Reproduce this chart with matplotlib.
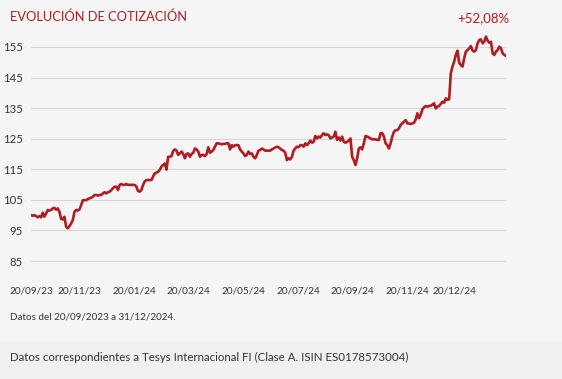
import matplotlib
matplotlib.use('Agg')
import matplotlib.pyplot as plt
import numpy as np
from matplotlib.patches import Rectangle

# valores de cotización (base 100)
cotizacion = [
    100.0, 99.8, 100.0, 99.7, 99.3, 99.7, 99.3, 100.8, 99.5, 100.5,
    101.7, 101.5, 101.7, 102.2, 102.4, 101.8, 102.2, 101.1, 98.8, 98.6,
    99.5, 96.2, 95.7, 96.4, 97.3, 98.4, 101.1, 101.7, 101.5, 101.9,
    103.3, 104.9, 104.9, 104.9, 105.3, 105.5, 105.7, 106.0, 106.6, 106.6,
    106.4, 106.6, 106.6, 107.1, 107.5, 107.1, 107.5, 107.7, 108.2, 108.8,
    109.3, 109.3, 108.2, 109.9, 110.2, 109.9, 109.9, 110.2, 109.9, 109.9,
    109.9, 109.9, 109.9, 109.3, 107.9, 107.7, 108.2, 109.9, 111.0, 111.5,
    111.5, 111.5, 111.5, 112.6, 113.7, 113.9, 114.2, 114.8, 115.9, 116.4,
    116.9, 114.9, 119.1, 119.1, 119.3, 121.0, 121.5, 121.1, 119.7, 120.2,
    120.8, 120.0, 118.6, 120.0, 120.2, 119.1, 120.0, 120.4, 121.8, 121.5,
    120.8, 119.1, 119.7, 119.7, 119.3, 120.0, 122.2, 120.4, 120.8, 121.3,
    122.4, 123.5, 123.5, 123.3, 123.2, 123.3, 123.3, 123.5, 123.5, 121.5,
    122.9, 122.4, 122.9, 122.9, 122.9, 121.5, 120.8, 120.2, 119.3, 119.7,
    120.8, 120.0, 120.2, 119.1, 118.6, 119.7, 121.1, 121.3, 121.8, 121.5,
    121.1, 121.1, 121.1, 121.1, 121.5, 121.8, 122.1, 122.4, 122.2, 121.8,
    121.3, 121.1, 120.4, 118.0, 118.6, 118.2, 119.1, 121.1, 121.8, 122.4,
    122.2, 122.9, 122.9, 122.4, 123.5, 122.9, 123.5, 124.4, 123.7, 124.0,
    125.9, 125.1, 125.7, 125.4, 126.2, 126.8, 126.2, 126.4, 126.2, 125.1,
    125.4, 125.7, 127.3, 124.6, 125.4, 124.4, 125.7, 124.0, 123.7, 124.0,
    124.4, 125.1, 119.1, 118.0, 116.4, 118.6, 121.8, 122.2, 121.5, 123.5,
    125.9, 125.7, 125.4, 125.1, 124.8, 124.8, 124.8, 124.6, 124.6, 126.8,
    126.8, 125.7, 123.5, 122.9, 121.8, 123.5, 125.7, 127.3, 127.8, 127.8,
    128.4, 129.5, 130.0, 130.6, 131.1, 130.0, 130.0, 129.8, 130.0, 130.2,
    131.3, 133.3, 131.7, 132.8, 134.6, 135.3, 135.7, 135.5, 135.7, 135.8,
    136.1, 136.6, 134.9, 135.5, 135.7, 136.4, 137.1, 136.8, 138.2, 137.7,
    137.9, 146.4, 148.6, 150.2, 152.4, 153.8, 149.9, 149.1, 148.6, 151.3,
    153.5, 154.0, 154.6, 155.3, 153.8, 153.5, 154.0, 156.2, 157.3, 157.5,
    156.2, 156.7, 158.4, 157.1, 156.4, 156.7, 152.9, 152.4, 153.5, 154.0,
    155.1, 154.6, 152.9, 152.4, 152.1,
]

fechas = ['20/09/23', '20/11/23', '20/01/24', '20/03/24', '20/05/24',
          '20/07/24', '20/09/24', '20/11/24', '20/12/24']
pos_fechas = [0, 29, 62, 94, 127, 160, 192, 225, 253]

marcas_y = [85, 95, 105, 115, 125, 135, 145, 155]
rentabilidad = '+52,08%'

rojo = '#b01c22'
gris_texto = '#333333'
fondo = '#f5f5f5'

plt.rcParams['font.family'] = ['Lato', 'DejaVu Sans']

fig = plt.figure(figsize=(5.62, 3.79), dpi=100)
fig.patch.set_facecolor(fondo)

# franja inferior
fig.patches.append(Rectangle((0, 0), 1, 38 / 379, transform=fig.transFigure,
                             facecolor='#f1f0ee', edgecolor='none', zorder=0))

ax = fig.add_axes([31 / 562, 1 - 270.2 / 379, 475 / 562, (270.2 - 31.7) / 379])
ax.set_facecolor(fondo)

x = np.arange(len(cotizacion))
ax.plot(x, cotizacion, color=rojo, linewidth=1.9, solid_joinstyle='round', zorder=3)

ax.set_xlim(0, len(cotizacion) - 1)
ax.set_ylim(82, 160)
ax.set_yticks(marcas_y)
ax.set_xticks(pos_fechas)
ax.set_xticklabels(fechas)
ax.grid(axis='y', color='#d6d6d6', linewidth=0.8)
ax.grid(axis='x', visible=False)
ax.tick_params(axis='both', length=0, colors=gris_texto)
ax.tick_params(axis='y', pad=6, labelsize=8.2)
ax.tick_params(axis='x', pad=12, labelsize=7.2)
for s in ax.spines.values():
    s.set_visible(False)

fig.text(10 / 562, 1 - 17 / 379, 'EVOLUCIÓN DE COTIZACIÓN', color=rojo,
         fontsize=9.3, va='center', ha='left')
fig.text(483 / 562, 1 - 18 / 379, rentabilidad, color=rojo,
         fontsize=9.5, va='center', ha='center')
fig.text(10 / 562, 1 - 317 / 379, 'Datos del 20/09/2023 a 31/12/2024.',
         color=gris_texto, fontsize=7.1, va='center', ha='left')
fig.text(10 / 562, 1 - 357 / 379,
         'Datos correspondientes a Tesys Internacional FI (Clase A. ISIN ES0178573004)',
         color=gris_texto, fontsize=8.3, va='center', ha='left')

fig.savefig('out.png', dpi=100, facecolor=fig.get_facecolor())
